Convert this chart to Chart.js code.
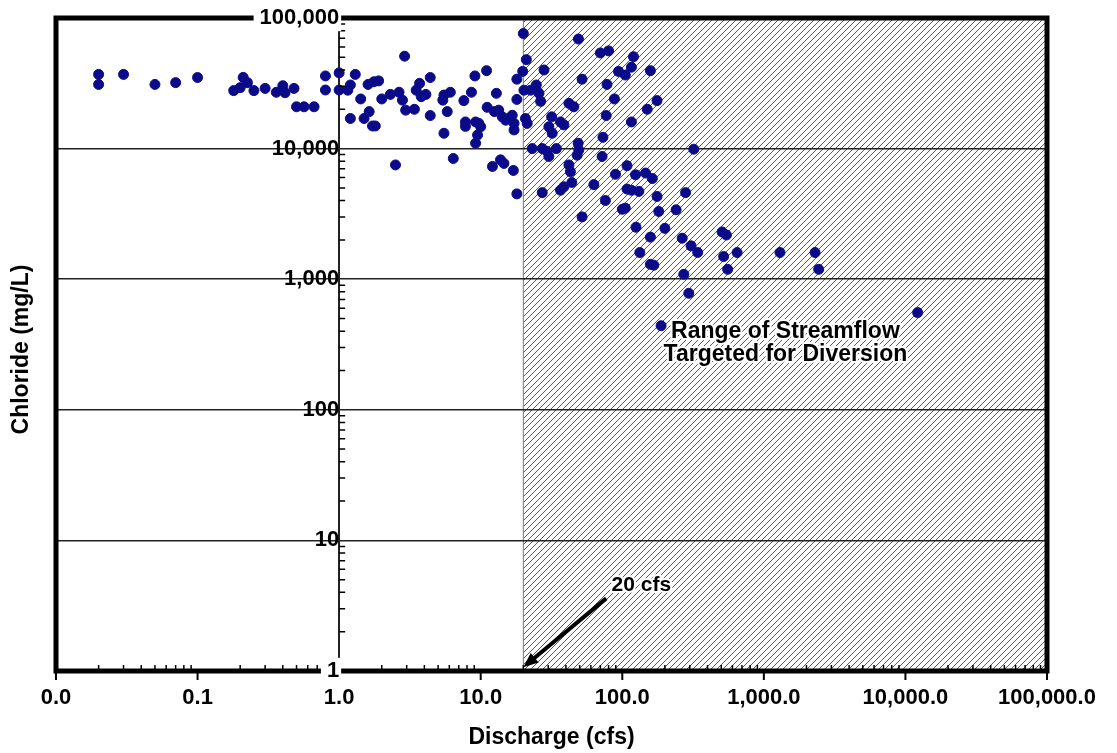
<!DOCTYPE html>
<html>
<head>
<meta charset="utf-8">
<title>Chloride vs Discharge</title>
<script src="https://cdn.jsdelivr.net/npm/chart.js@4.4.1/dist/chart.umd.min.js"></script>
<style>
  html, body { margin: 0; padding: 0; background: #fff; }
  #wrap { width: 1117px; height: 753px; position: relative; }
</style>
</head>
<body>
<div id="wrap"><canvas id="chloride-chart"></canvas></div>
<script>
  'use strict';

  // Discharge (cfs) and chloride (mg/L) samples, row by row
  const discharge = [
    0.02, 0.02, 0.03, 0.05, 0.07, 0.1, 0.18, 0.2, 0.21, 0.225,
    0.25, 0.3, 0.36, 0.4, 0.415, 0.48, 0.5, 0.565, 0.665, 0.8,
    0.8, 1.0, 1.0,
    2.9, 20, 11, 9.1, 1.3, 4.4, 21, 19.8, 1.2, 1.6,
    1.76, 1.9, 1.15, 3.7, 3.5, 4.1, 3.8, 2.3, 2.65, 2.8,
    6.1, 5.5, 8.6, 12.9, 18, 20.2, 18, 1.42, 2.0, 5.4,
    7.6, 2.95, 3.4, 4.4, 5.8, 11.1, 12.5, 1.2, 1.5, 1.63,
    1.72, 1.8, 5.5, 7.8, 7.8, 9.2, 9.7, 10, 13.4, 14.2,
    15, 15.8, 16.7, 17.2, 20.7, 21.3, 9.5, 9.2, 17.2, 2.5,
    6.4, 12.1, 13.8, 14.6, 17, 18,
    49, 70, 80, 120, 116, 158, 94, 105, 28, 52,
    78, 22.5, 24.7, 25.8, 26.5, 42, 45.5, 88, 176, 150,
    77, 116, 31.7, 30.3, 32, 36.6, 38.7, 73, 48.8, 49.3,
    48, 23.1, 27.2, 29.5, 30.3, 34.2, 72, 320, 42, 43,
    108, 89.5, 124, 146, 163, 44, 38.7, 36.6, 63, 27.2,
    108, 116, 131, 176, 280, 76, 100, 105, 181, 240,
    52, 125, 200, 158, 265,
    507, 544, 133, 158, 167, 306, 341, 272, 520, 647,
    555, 1300, 2300, 2440, 295, 12200, 188
  ];

  const chloride = [
    37000, 31000, 37000, 31000, 32000, 35000, 27800, 29300, 35100, 32000,
    27800, 28900, 27000, 30300, 26800, 28900, 20900, 20900, 20900, 36000,
    28100, 38000, 28100,
    51000, 76000, 39500, 36000, 37000, 35000, 48000, 39000, 30700, 31000,
    32500, 33000, 28000, 31600, 28000, 26000, 25000, 26000, 27000, 23500,
    27000, 25700, 27000, 26500, 34000, 28000, 23800, 24000, 24000, 23500,
    23300, 19700, 20000, 17900, 19200, 20700, 19200, 17000, 17000, 19200,
    14900, 14900, 13100, 16000, 14800, 16000, 15600, 14700, 19700, 17500,
    16500, 17000, 18000, 15600, 17000, 15600, 12700, 11000, 13900, 7500,
    8400, 7300, 8200, 7700, 6800, 4500,
    69000, 54000, 56000, 50500, 42000, 39500, 39000, 36600, 40000, 34000,
    31000, 28000, 30700, 26500, 23000, 22200, 20900, 24000, 23300, 20000,
    17900, 16000, 17500, 14700, 13100, 16000, 15200, 12200, 11000, 9760,
    8900, 10000, 10000, 9500, 8700, 10000, 8700, 9900, 7500, 6650,
    7400, 6360, 6300, 6500, 5900, 5500, 5100, 4800, 5300, 4600,
    4900, 4800, 4700, 4300, 4600, 4000, 3430, 3500, 3300, 3400,
    3000, 2500, 2450, 2100, 2060,
    2300, 2180, 1600, 1300, 1280, 1800, 1600, 1090, 1490, 1600,
    1190, 1600, 1600, 1190, 780, 555, 440
  ];

  // Axis ticks (decades)
  const xTicks = [0.01, 0.1, 1, 10, 100, 1000, 10000, 100000];
  const yTicks = [1, 10, 100, 1000, 10000, 100000];

  // Diversion range starts at 20 cfs
  const diversionFrom = 20;
  const rangeNote = { x: 1420, y: 394, lines: ['Range of Streamflow', 'Targeted for Diversion'] };
  const cfsNote = { x: 84, y: 4.5, text: '20 cfs' };
  const arrowFrom = { x: 77, y: 3.6 };
  const arrowTo = { x: 20, y: 1.07 };

  const FONT = "'Liberation Sans', Arial, Helvetica, sans-serif";
  const DOT = '#0b0b8a';

  const points = discharge.map((d, i) => ({ x: d, y: chloride[i] }));

  function fmtX(v) {
    return Number(v).toLocaleString('en-US', { minimumFractionDigits: 1, maximumFractionDigits: 1 });
  }

  function makeHatch(ctx) {
    const s = 6;
    const c = document.createElement('canvas');
    c.width = s;
    c.height = s;
    const g = c.getContext('2d');
    g.strokeStyle = '#5a5a5a';
    g.lineWidth = 1;
    g.beginPath();
    g.moveTo(0, s); g.lineTo(s, 0);
    g.moveTo(-1, 1); g.lineTo(1, -1);
    g.moveTo(s - 1, s + 1); g.lineTo(s + 1, s - 1);
    g.stroke();
    return ctx.createPattern(c, 'repeat');
  }

  function haloText(ctx, text, x, y) {
    ctx.lineJoin = 'round';
    ctx.strokeStyle = '#fff';
    ctx.lineWidth = 4;
    ctx.strokeText(text, x, y);
    ctx.fillStyle = '#000';
    ctx.fillText(text, x, y);
  }

  const framePlugin = {
    id: 'frame',
    beforeDraw(chart) {
      const { ctx, chartArea: a, scales: { x } } = chart;
      const x0 = x.getPixelForValue(diversionFrom);
      ctx.save();
      ctx.fillStyle = makeHatch(ctx);
      ctx.fillRect(x0, a.top, a.right - x0, a.bottom - a.top);
      ctx.strokeStyle = '#777';
      ctx.lineWidth = 1;
      ctx.beginPath();
      ctx.moveTo(x0, a.top);
      ctx.lineTo(x0, a.bottom);
      ctx.stroke();
      ctx.restore();
    },
    afterDatasetsDraw(chart) {
      const { ctx, chartArea: a, scales: { x, y } } = chart;
      ctx.save();

      // minor ticks along bottom (inward) and on the y axis line (to the right)
      ctx.strokeStyle = '#000';
      ctx.lineWidth = 1.5;
      ctx.beginPath();
      const yAxisX = x.getPixelForValue(1);
      xTicks.slice(0, -1).forEach(d => {
        for (let k = 2; k <= 9; k++) {
          const px = x.getPixelForValue(d * k);
          ctx.moveTo(px, a.bottom);
          ctx.lineTo(px, a.bottom - 6);
        }
      });
      yTicks.slice(0, -1).forEach(d => {
        for (let k = 2; k <= 9; k++) {
          const py = y.getPixelForValue(d * k);
          ctx.moveTo(yAxisX, py);
          ctx.lineTo(yAxisX + 6, py);
        }
      });
      ctx.stroke();

      // major ticks below the bottom edge
      ctx.lineWidth = 2;
      ctx.beginPath();
      xTicks.forEach(v => {
        const px = x.getPixelForValue(v);
        ctx.moveTo(px, a.bottom);
        ctx.lineTo(px, a.bottom + 9);
      });
      ctx.stroke();

      // heavy frame
      ctx.lineWidth = 5;
      ctx.strokeRect(a.left, a.top, a.right - a.left, a.bottom - a.top);

      // annotation: diversion range
      ctx.font = 'bold 23px ' + FONT;
      ctx.textAlign = 'center';
      ctx.textBaseline = 'middle';
      const rx = x.getPixelForValue(rangeNote.x);
      const ry = y.getPixelForValue(rangeNote.y);
      rangeNote.lines.forEach((t, i) => haloText(ctx, t, rx, ry + i * 23));

      // annotation: 20 cfs arrow
      const ax0 = x.getPixelForValue(arrowFrom.x), ay0 = y.getPixelForValue(arrowFrom.y);
      const ax1 = x.getPixelForValue(arrowTo.x), ay1 = y.getPixelForValue(arrowTo.y);
      const ang = Math.atan2(ay1 - ay0, ax1 - ax0);
      const head = 16;
      ctx.strokeStyle = '#000';
      ctx.fillStyle = '#000';
      ctx.lineWidth = 4;
      ctx.beginPath();
      ctx.moveTo(ax0, ay0);
      ctx.lineTo(ax1 - Math.cos(ang) * head * 0.8, ay1 - Math.sin(ang) * head * 0.8);
      ctx.stroke();
      ctx.beginPath();
      ctx.moveTo(ax1, ay1);
      ctx.lineTo(ax1 - head * Math.cos(ang - 0.4), ay1 - head * Math.sin(ang - 0.4));
      ctx.lineTo(ax1 - head * Math.cos(ang + 0.4), ay1 - head * Math.sin(ang + 0.4));
      ctx.closePath();
      ctx.fill();

      ctx.font = 'bold 21px ' + FONT;
      ctx.textAlign = 'left';
      haloText(ctx, cfsNote.text, x.getPixelForValue(cfsNote.x), y.getPixelForValue(cfsNote.y));

      // y axis title (axis itself sits at x = 1)
      ctx.translate(22, (a.top + a.bottom) / 2 + 5);
      ctx.rotate(-Math.PI / 2);
      ctx.font = 'bold 23px ' + FONT;
      ctx.textAlign = 'center';
      ctx.fillStyle = '#000';
      ctx.fillText('Chloride (mg/L)', 0, 0);

      ctx.restore();
    }
  };

  const canvas = document.getElementById('chloride-chart');
  new Chart(canvas.getContext('2d'), {
    type: 'scatter',
    data: {
      datasets: [{
        label: 'Chloride',
        data: points,
        backgroundColor: DOT,
        borderColor: DOT,
        borderWidth: 1,
        pointRadius: 5,
        pointHoverRadius: 5
      }]
    },
    options: {
      responsive: true,
      maintainAspectRatio: false,
      animation: false,
      layout: { padding: { left: 56, right: 70, top: 18, bottom: 0 } },
      plugins: {
        legend: { display: false },
        tooltip: { enabled: false }
      },
      scales: {
        x: {
          type: 'logarithmic',
          min: 0.01,
          max: 100000,
          afterBuildTicks: axis => { axis.ticks = xTicks.map(v => ({ value: v, major: true })); },
          afterFit: axis => { axis.height = 82; },
          grid: { display: false, drawTicks: false },
          border: { display: false },
          ticks: {
            autoSkip: false,
            maxRotation: 0,
            padding: 14,
            color: '#000',
            font: { family: FONT, size: 22, weight: 'bold' },
            callback: v => fmtX(v)
          },
          title: {
            display: true,
            text: 'Discharge (cfs)',
            color: '#000',
            font: { family: FONT, size: 23, weight: 'bold' },
            padding: { top: 0, bottom: 2 }
          }
        },
        y: {
          type: 'logarithmic',
          min: 1,
          max: 100000,
          position: { x: 1 },
          afterBuildTicks: axis => { axis.ticks = yTicks.map(v => ({ value: v, major: true })); },
          grid: { color: '#222', lineWidth: 1.5, drawTicks: false },
          border: { display: true, color: '#222', width: 2 },
          ticks: {
            z: 1,
            autoSkip: false,
            padding: 0,
            color: '#000',
            font: { family: FONT, size: 22, weight: 'bold' },
            callback: v => Number(v).toLocaleString('en-US'),
            showLabelBackdrop: c => !!c.tick && (c.tick.value === 1 || c.tick.value === 100000),
            backdropColor: '#fff',
            backdropPadding: { left: 6, right: 2, top: 0, bottom: 0 }
          }
        }
      }
    },
    plugins: [framePlugin]
  });
</script>
</body>
</html>
